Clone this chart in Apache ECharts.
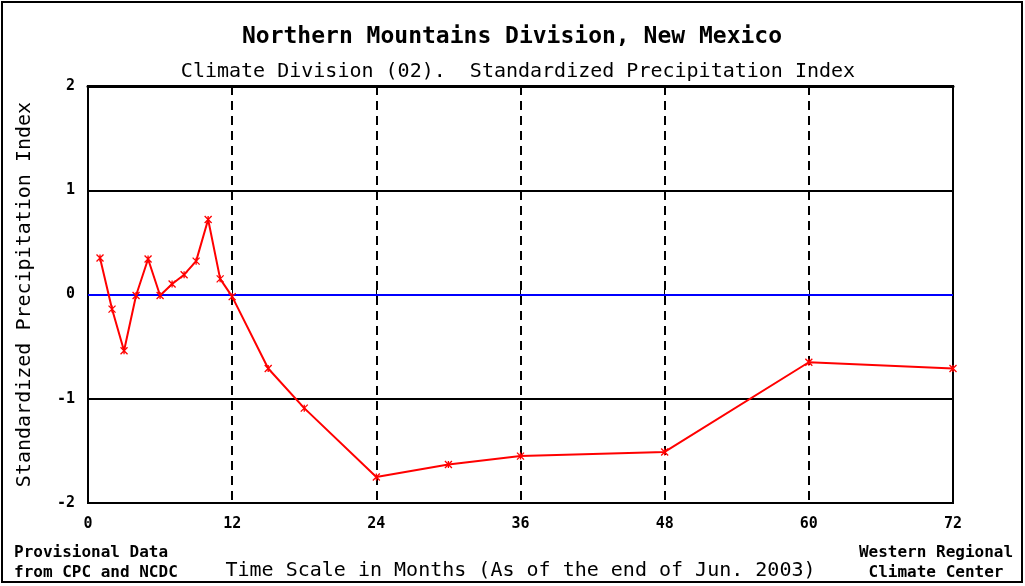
<!DOCTYPE html>
<html>
<head>
<meta charset="utf-8">
<script src="https://cdn.jsdelivr.net/npm/echarts@6/dist/echarts.min.js"></script>
<style>
  html, body { margin: 0; padding: 0; background: #fff; }
  #chart { width: 1025px; height: 586px; }
</style>
</head>
<body>
<div id="chart"></div>
<script>
// time scale in months, and the SPI
var months = [1, 2, 3, 4, 5, 6, 7, 8, 9, 10, 11, 12, 15, 18, 24, 30, 36, 48, 60, 72]
var spi = [0.35, -0.14, -0.54, -0.01, 0.34, -0.01, 0.10, 0.19, 0.32, 0.72, 0.15, -0.02,
           -0.71, -1.09, -1.75, -1.63, -1.55, -1.51, -0.65, -0.71]
var xTicks = [0, 12, 24, 36, 48, 60, 72]
var yTicks = [-2, -1, 0, 1, 2]

var mono = '"DejaVu Sans Mono", "Liberation Mono", monospace'

var points = months.map(function (m, i) { return [m, spi[i]] })

var myChart = echarts.init(document.getElementById('chart'))
var option = {
  backgroundColor: '#fff',
  animation: false,
  grid: {
    left: 88,
    right: 72,
    top: 86,
    bottom: 81,
    show: true,
    borderColor: '#000',
    borderWidth: 2
  },
  xAxis: [{
      type: 'value',
      min: xTicks[0],
      max: xTicks[xTicks.length - 1],
      interval: 12,
      name: 'Time Scale in Months (As of the end of Jun. 2003)',
      nameLocation: 'middle',
      nameGap: 58,
      nameTextStyle: { fontFamily: mono, fontSize: 20, color: '#000' },
      axisLine: { show: true, lineStyle: { color: '#000', width: 2 } },
      axisTick: { show: true, inside: true, length: 5, lineStyle: { color: '#000' } },
      axisLabel: {
        margin: 14,
        fontFamily: mono,
        fontSize: 15,
        fontWeight: 'bold',
        color: '#000'
      },
      splitLine: {
        show: true,
        showMinLine: false,
        showMaxLine: false,
        lineStyle: { color: '#000', width: 2, type: [9, 6] }
      }
    },
    {
      type: 'value',
      position: 'top',
      min: xTicks[0],
      max: xTicks[xTicks.length - 1],
      interval: 12,
      axisLine: { show: true, lineStyle: { color: '#000', width: 3 } },
      axisTick: { show: true, inside: true, length: 5, lineStyle: { color: '#000' } },
      axisLabel: { show: false },
      splitLine: { show: false }
    }
  ],
  yAxis: {
    type: 'value',
    min: yTicks[0],
    max: yTicks[yTicks.length - 1],
    interval: 1,
    name: 'Standardized Precipitation Index',
    nameLocation: 'middle',
    nameGap: 53,
    nameRotate: 90,
    nameTextStyle: { fontFamily: mono, fontSize: 20, color: '#000' },
    axisLine: { show: true, lineStyle: { color: '#000', width: 2 } },
    axisTick: { show: false },
    axisLabel: {
      margin: 13,
      fontFamily: mono,
      fontSize: 15,
      fontWeight: 'bold',
      color: '#000'
    },
    splitLine: {
      show: true,
      showMinLine: false,
      showMaxLine: false,
      lineStyle: { color: '#000', width: 2 }
    }
  },
  series: [{
    name: 'SPI',
    type: 'line',
    data: points,
    symbol: 'path://M0,0L10,10M10,0L0,10M5,0L5,10',
    symbolSize: 7,
    showAllSymbol: true,
    lineStyle: { color: '#ff0000', width: 2 },
    itemStyle: { color: 'transparent', borderColor: '#ff0000', borderWidth: 1.3 },
    z: 5,
    markLine: {
      silent: true,
      symbol: 'none',
      label: { show: false },
      lineStyle: { color: '#0000ff', width: 2, type: 'solid' },
      data: [{ yAxis: 0 }],
      z: 3
    }
  }],
  graphic: [
    {
      type: 'rect',
      shape: { x: 2, y: 2, width: 1020, height: 580 },
      style: { fill: 'none', stroke: '#000', lineWidth: 2 },
      silent: true
    },
    {
      type: 'text', x: 512, y: 37,
      style: {
        text: 'Northern Mountains Division, New Mexico',
        fontFamily: mono, fontSize: 23, fontWeight: 'bold', fill: '#000',
        align: 'center', verticalAlign: 'middle'
      }
    },
    {
      type: 'text', x: 518, y: 72,
      style: {
        text: 'Climate Division (02).  Standardized Precipitation Index',
        fontFamily: mono, fontSize: 20, fill: '#000',
        align: 'center', verticalAlign: 'middle'
      }
    },
    {
      type: 'text', x: 14, y: 563,
      style: {
        text: 'Provisional Data\nfrom CPC and NCDC',
        fontFamily: mono, fontSize: 16, fontWeight: 'bold', fill: '#000',
        lineHeight: 20, align: 'left', verticalAlign: 'middle'
      }
    },
    {
      type: 'text', x: 936, y: 563,
      style: {
        text: 'Western Regional\nClimate Center',
        fontFamily: mono, fontSize: 16, fontWeight: 'bold', fill: '#000',
        lineHeight: 20, align: 'center', verticalAlign: 'middle'
      }
    }
  ]
}
myChart.setOption(option)
</script>
</body>
</html>
